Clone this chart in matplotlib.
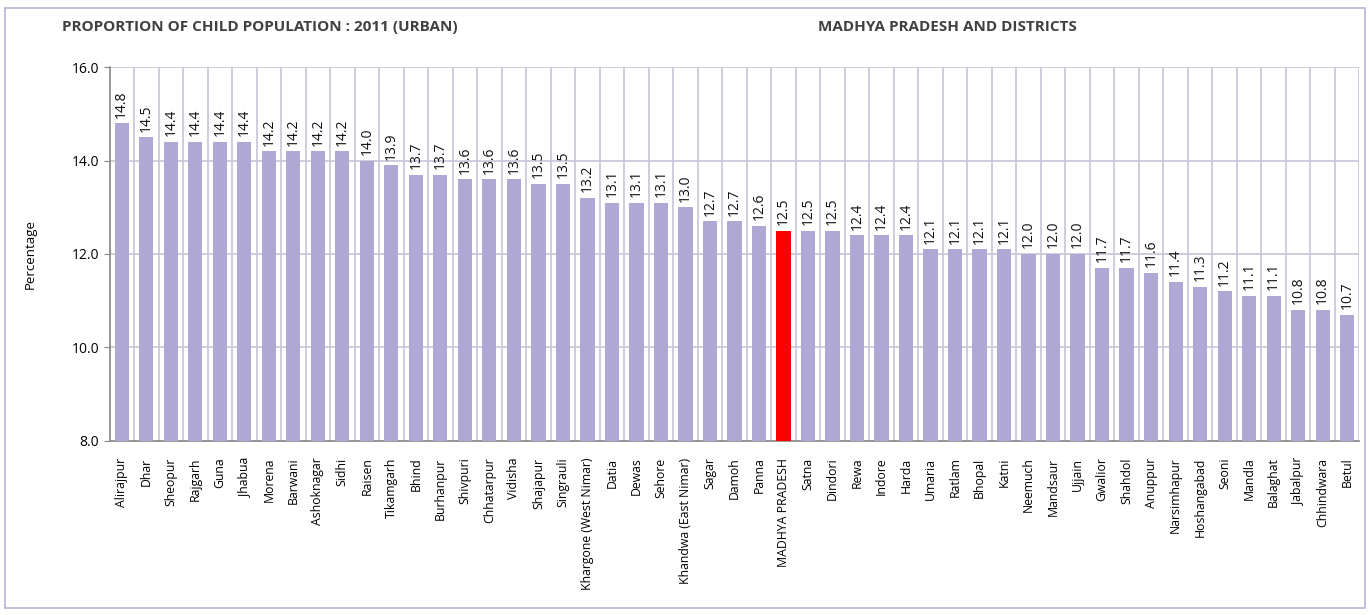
import numpy as np
from matplotlib import pyplot as plt
from matplotlib.patches import Rectangle

districts = ["Alirajpur", "Dhar", "Sheopur", "Rajgarh", "Guna", "Jhabua", "Morena",
             "Barwani", "Ashoknagar", "Sidhi", "Raisen", "Tikamgarh", "Bhind",
             "Burhanpur", "Shivpuri", "Chhatarpur", "Vidisha", "Shajapur", "Singrauli",
             "Khargone (West Nimar)", "Datia", "Dewas", "Sehore", "Khandwa (East Nimar)",
             "Sagar", "Damoh", "Panna", "MADHYA PRADESH", "Satna", "Dindori", "Rewa",
             "Indore", "Harda", "Umaria", "Ratlam", "Bhopal", "Katni", "Neemuch",
             "Mandsaur", "Ujjain", "Gwalior", "Shahdol", "Anuppur", "Narsimhapur",
             "Hoshangabad", "Seoni", "Mandla", "Balaghat", "Jabalpur", "Chhindwara", "Betul"]
values = [14.8, 14.5, 14.4, 14.4, 14.4, 14.4, 14.2, 14.2, 14.2, 14.2, 14.0, 13.9, 13.7,
          13.7, 13.6, 13.6, 13.6, 13.5, 13.5, 13.2, 13.1, 13.1, 13.1, 13.0, 12.7, 12.7,
          12.6, 12.5, 12.5, 12.5, 12.4, 12.4, 12.4, 12.1, 12.1, 12.1, 12.1, 12.0, 12.0,
          12.0, 11.7, 11.7, 11.6, 11.4, 11.3, 11.2, 11.1, 11.1, 10.8, 10.8, 10.7]
highlight = "MADHYA PRADESH"

plt.rcParams['font.family'] = ['Open Sans', 'DejaVu Sans']

fig = plt.figure(figsize=(13.69, 6.15), dpi=100)
ax = fig.add_axes([0.080, 0.283, 0.913, 0.608])

x = np.arange(len(districts))
colors = ['#FF0000' if d == highlight else '#B0A8D4' for d in districts]
ax.bar(x, [v - 8 for v in values], bottom=8, width=0.58, color=colors, zorder=3)

for xi, v in zip(x, values):
    ax.text(xi, v + 0.12, f"{v:.1f}", rotation=90, ha='center', va='bottom',
            fontsize=10, color='#111111', zorder=4)

ax.set_xlim(-0.5, len(districts) - 0.5)
ax.set_ylim(8, 16)
ax.set_yticks([8, 10, 12, 14, 16])
ax.set_yticklabels([f"{t:.1f}" for t in [8, 10, 12, 14, 16]], fontsize=10)
ax.set_xticks(x)
ax.set_xticklabels(districts, rotation=90, fontsize=8.8)
ax.tick_params(axis='x', length=0, pad=12)
ax.tick_params(axis='y', length=4, color='#888888')

# vertical separators between categories and horizontal grid
for b in np.arange(-0.5, len(districts), 1.0):
    ax.axvline(b, color='#C8C4D8', lw=1.2, zorder=1)
ax.yaxis.grid(True, color='#C8C4D8', lw=1.2, zorder=1)
ax.set_axisbelow(True)

for s in ['top', 'right']:
    ax.spines[s].set_visible(False)
for s in ['left', 'bottom']:
    ax.spines[s].set_color('#888888')
    ax.spines[s].set_linewidth(1.2)

ax.set_ylabel("Percentage", fontsize=9.5, labelpad=25)

fig.text(62 / 1369, 1 - 27 / 615, "PROPORTION OF CHILD POPULATION : 2011 (URBAN)",
         fontsize=11, fontweight='bold', color='#404040', va='center')
fig.text(818 / 1369, 1 - 27 / 615, "MADHYA PRADESH AND DISTRICTS",
         fontsize=11, fontweight='bold', color='#404040', va='center')

fig.patches.append(Rectangle((5 / 1369, 1 - 608 / 615), 1360 / 1369, 600 / 615,
                             transform=fig.transFigure, fill=False,
                             edgecolor='#B8B4D8', lw=1.2))

fig.savefig("out.png", dpi=100)
